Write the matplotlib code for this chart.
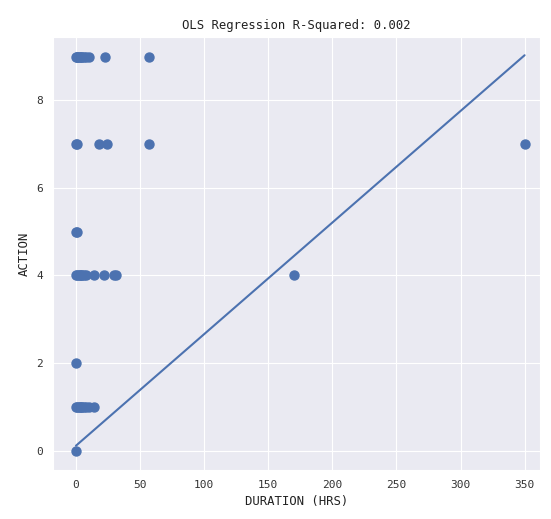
import numpy as np
import seaborn as sns
from matplotlib import pyplot as plt

# observed points (duration in hours, action code)
duration = [0, 0.5, 1, 2, 3, 4, 5, 6, 8, 10, 23, 57,
            0, 0.5, 18, 24, 57, 350,
            0, 0.5,
            0, 1, 2, 3, 4, 5, 6, 8, 14, 22, 30, 31, 170,
            0,
            0, 1, 2, 3, 4, 5, 6, 8, 10, 14,
            0]
action = [9, 9, 9, 9, 9, 9, 9, 9, 9, 9, 9, 9,
          7, 7, 7, 7, 7, 7,
          5, 5,
          4, 4, 4, 4, 4, 4, 4, 4, 4, 4, 4, 4, 4,
          2,
          1, 1, 1, 1, 1, 1, 1, 1, 1, 1,
          0]

# fitted line
fit_x = [0, 350]
fit_y = [0.11, 9.03]

sns.set_style("darkgrid")
plt.rcParams['font.family'] = ['DejaVu Sans Mono']

fig = plt.figure(figsize=(5.51, 5.19), dpi=100)
ax = fig.add_axes([0.096, 0.094, 0.884, 0.835])
ax.scatter(duration, action, s=42, color="#4c72b0", zorder=3)
ax.plot(fit_x, fit_y, color="#4c72b0", linewidth=1.5, zorder=2)
ax.set_xlim(-18, 362)
ax.set_ylim(-0.45, 9.45)
ax.set_xticks(np.arange(0, 351, 50))
ax.set_yticks(np.arange(0, 9, 2))
ax.tick_params(labelsize=8, labelcolor="#333333")
ax.set_title("OLS Regression R-Squared: 0.002", fontsize=8.8, color="#222222")
ax.set_xlabel("DURATION (HRS)", fontsize=8.8, color="#222222")
ax.set_ylabel("ACTION", fontsize=8.8, color="#222222")
fig.savefig("out.png", dpi=100)
